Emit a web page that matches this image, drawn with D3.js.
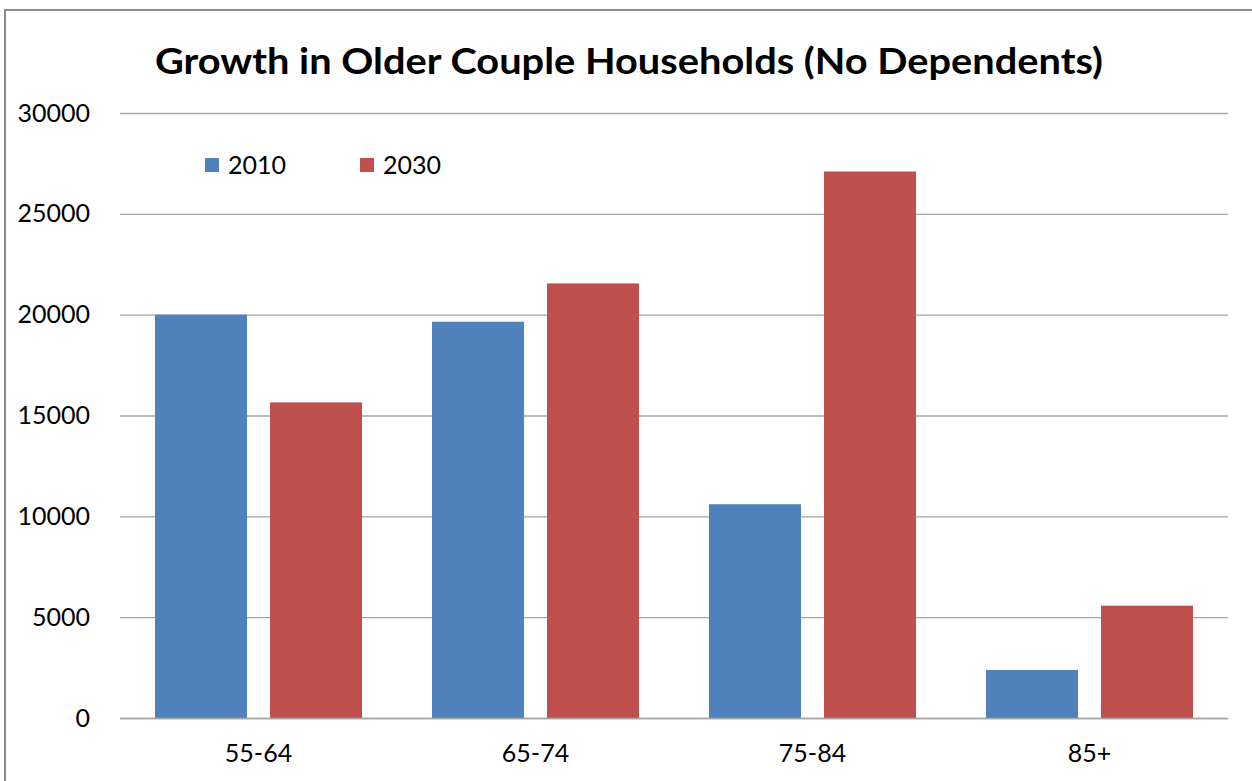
<!DOCTYPE html>
<html>
<head>
<meta charset="utf-8">
<script src="https://cdn.jsdelivr.net/npm/d3@7"></script>
<style>
  body { margin: 0; background: #fff; }
  svg { display: block; font-family: Lato, "Open Sans", sans-serif; }
</style>
</head>
<body>
<svg id="chart" width="1252" height="781"></svg>
<script>
const categories = ['55-64', '65-74', '75-84', '85+'];
const seriesNames = ['2010', '2030'];
const values2010 = [20000, 19650, 10600, 2380];
const values2030 = [15650, 21550, 27100, 5570];
const yTicks = [0, 5000, 10000, 15000, 20000, 25000, 30000];
const colors = ['#4F81BD', '#C0504D'];

const rows = categories.map((c, i) => ({ cat: c, vals: [values2010[i], values2030[i]] }));

const svg = d3.select('#chart');
const width = 1252;
const height = 781;
const margin = { top: 113, right: 24, bottom: 63, left: 120 };

// frame of the chart area
svg.append('path')
  .attr('d', `M5,${height} V10 H${width}`)
  .attr('fill', 'none')
  .attr('stroke', '#8c8c8c')
  .attr('stroke-width', 2);

const x0 = d3.scaleBand()
  .domain(categories)
  .range([margin.left, width - margin.right])
  .paddingInner(0.2527)
  .paddingOuter(0.1264);

const x1 = d3.scaleBand()
  .domain([0, 1])
  .range([0, x0.bandwidth()])
  .paddingInner(0.2);

const y = d3.scaleLinear()
  .domain([0, 30000])
  .range([height - margin.bottom, margin.top]);

// gridlines + y labels
const yAxis = g => g
  .attr('transform', `translate(${margin.left},0)`)
  .call(d3.axisLeft(y).tickValues(yTicks).tickFormat(d3.format('d'))
    .tickSize(-(width - margin.left - margin.right)).tickPadding(30))
  .call(g => g.select('.domain').remove())
  .call(g => g.selectAll('.tick line').attr('stroke', '#a6a6a6').attr('stroke-width', 1.3))
  .call(g => g.selectAll('.tick text')
    .attr('font-size', 25)
    .attr('fill', '#000')
    .attr('font-family', 'Lato, sans-serif'));

svg.append('g').call(yAxis);

// bars
svg.append('g')
  .selectAll('g')
  .data(rows)
  .join('g')
    .attr('transform', d => `translate(${x0(d.cat)},0)`)
  .selectAll('rect')
  .data(d => d.vals.map((v, i) => ({ v, i })))
  .join('rect')
    .attr('x', d => x1(d.i))
    .attr('y', d => y(d.v))
    .attr('width', x1.bandwidth())
    .attr('height', d => y(0) - y(d.v))
    .attr('fill', d => colors[d.i]);

// x axis
const xAxis = g => g
  .attr('transform', `translate(0,${height - margin.bottom})`)
  .call(d3.axisBottom(x0).tickSize(0).tickPadding(26))
  .call(g => g.select('.domain').attr('stroke', '#a6a6a6').attr('stroke-width', 1.3)
    .attr('d', `M${margin.left},0.5H${width - margin.right}`))
  .call(g => g.selectAll('.tick text')
    .attr('font-size', 25)
    .attr('fill', '#000')
    .attr('font-family', 'Lato, sans-serif'));

svg.append('g').call(xAxis);

// title
svg.append('text')
  .attr('x', 629)
  .attr('y', 74)
  .attr('text-anchor', 'middle')
  .attr('font-size', 37)
  .attr('font-weight', 'bold')
  .attr('textLength', 948)
  .attr('lengthAdjust', 'spacingAndGlyphs')
  .text('Growth in Older Couple Households (No Dependents)');

// legend
const legendX = [205, 360];
const legend = svg.append('g')
  .selectAll('g')
  .data(seriesNames)
  .join('g')
    .attr('transform', (d, i) => `translate(${legendX[i]},158)`);

legend.append('rect')
  .attr('width', 14)
  .attr('height', 14)
  .attr('fill', (d, i) => colors[i]);

legend.append('text')
  .attr('x', 23)
  .attr('y', 7)
  .attr('dy', '0.35em')
  .attr('font-size', 25)
  .text(d => d);
</script>
</body>
</html>
